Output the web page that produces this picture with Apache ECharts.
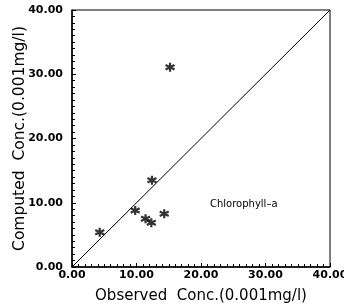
<!DOCTYPE html>
<html><head><meta charset="utf-8">
<script src="https://cdn.jsdelivr.net/npm/echarts@6/dist/echarts.min.js"></script>
<style>html,body{margin:0;padding:0;background:#fff}#c{width:344px;height:307px}</style>
</head><body><div id="c"></div>
<script>
var observed = [4.3, 9.8, 11.4, 12.3, 12.4, 14.3, 15.2];
var computed = [5.4, 8.8, 7.5, 6.9, 13.5, 8.3, 31.1];
var lineX = [0, 40];
var lineY = [0, 40];
var xName = 'Observed  Conc.(0.001mg/l)';
var yName = 'Computed  Conc.(0.001mg/l)';
var annotation = 'Chlorophyll\u2013a';

var star = 'path://M0,-10L0,10M-8.66,-5L8.66,5M-8.66,5L8.66,-5';
var pts = observed.map(function(v,i){return [v, computed[i]];});
var chart = echarts.init(document.getElementById('c'));
var axisCommon = {
  min: 0, max: 40, interval: 10,
  axisLine: {lineStyle: {color: '#000', width: 1.5}},
  axisTick: {inside: true, length: 4, lineStyle: {color: '#000'}},
  minorTick: {show: true, splitNumber: 10, length: 3, lineStyle: {color: '#000'}},
  splitLine: {show: false},
  axisLabel: {color: '#000', fontFamily: 'DejaVu Sans', fontWeight: 'bold', fontSize: 11,
    formatter: function(v){return v.toFixed(2);}},
  nameLocation: 'middle',
  nameMoveOverlap: false,
  nameTextStyle: {color: '#000', fontFamily: 'DejaVu Sans', fontSize: 15}
};
chart.setOption({
  animation: false,
  grid: {left: 72, right: 14, top: 10, bottom: 40, show: true, borderColor: '#000', borderWidth: 1,
    containLabel: false, outerBoundsMode: 'none'},
  xAxis: Object.assign({}, axisCommon, {type: 'value', name: xName, nameGap: 22,
    axisLabel: Object.assign({}, axisCommon.axisLabel, {margin: 3})}),
  yAxis: Object.assign({}, axisCommon, {type: 'value', name: yName, nameGap: 44,
    nameTextStyle: Object.assign({}, axisCommon.nameTextStyle, {fontSize: 15.5}),
    axisLabel: Object.assign({}, axisCommon.axisLabel, {margin: 9})}),
  series: [
    {type: 'line', data: lineX.map(function(v,i){return [v, lineY[i]];}), showSymbol: false,
     lineStyle: {color: '#000', width: 1}},
    {type: 'scatter', data: pts, symbol: star, symbolSize: 9,
     itemStyle: {color: 'none', borderColor: '#000', borderWidth: 2.2}}
  ],
  graphic: [{type: 'text', left: 210, top: 199,
    style: {text: annotation, fill: '#000', font: '10px "DejaVu Sans"'}}]
});
</script></body></html>
